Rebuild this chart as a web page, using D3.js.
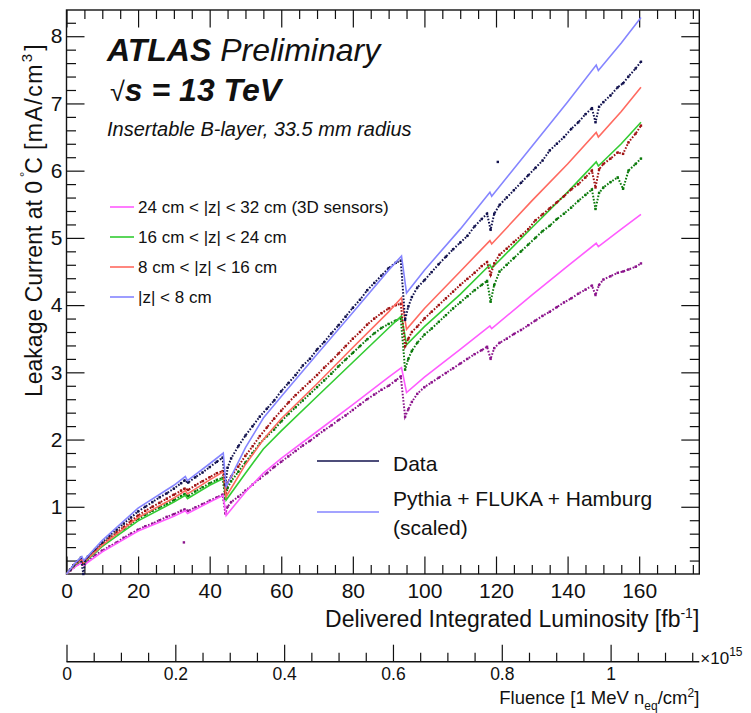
<!DOCTYPE html>
<html>
<head>
<meta charset="utf-8">
<script src="https://cdn.jsdelivr.net/npm/d3@7"></script>
<style>
  body { margin: 0; background: #fff; }
  svg { display: block; }
  text { font-family: "Liberation Sans", Arial, Helvetica, sans-serif; fill: #111; }
</style>
</head>
<body>
<svg id="chart" width="751" height="713"></svg>
<script>
// luminosity points of the measured currents [fb-1]
const lumiData = [1,2,3,4,4.7,5.2,6,8,10,12,14,16,18,20,22,24,26,28,30,32,33,34,36,38,40,42,43.6,
  44.4,45,46,48,50,52,54,56,58,60,62,64,66,68,70,72,74,76,78,80,82,84,86,88,90,92,93.4,
  94.6,95.5,96.5,98,100,102,104,106,108,110,112,114,116,117.5,118.5,119.5,121,123,125,127,129,131,133,135,137,139,141,143,145,146.8,147.8,148.8,150,152,154,155.5,157,159,160.5];

// measured leakage current [mA/cm3]
const dataZ8 = [0.06,0.13,0.19,0.24,0.0,0.2,0.26,0.37,0.47,0.57,0.66,0.75,0.84,0.93,1.0,1.07,1.14,1.2,1.27,1.35,1.39,1.36,1.44,1.51,1.59,1.67,1.73,
  1.32,1.58,1.72,1.9,2.06,2.2,2.34,2.46,2.58,2.72,2.84,2.96,3.1,3.2,3.34,3.45,3.58,3.7,3.83,3.96,4.08,4.22,4.33,4.44,4.55,4.63,4.66,
  3.78,3.98,4.12,4.26,4.37,4.49,4.61,4.72,4.83,4.93,5.03,5.17,5.28,5.36,5.12,5.36,5.49,5.6,5.71,5.82,5.93,6.04,6.15,6.3,6.4,6.5,6.62,6.72,6.84,6.93,6.72,6.95,7.02,7.12,7.24,7.3,7.4,7.52,7.62];
const dataZ16 = [0.06,0.13,0.18,0.22,0.17,0.2,0.25,0.35,0.45,0.53,0.62,0.7,0.79,0.87,0.94,1.0,1.06,1.12,1.18,1.24,1.27,1.25,1.32,1.38,1.44,1.5,1.53,
  1.2,1.36,1.45,1.6,1.76,1.9,2.05,2.18,2.31,2.43,2.55,2.66,2.76,2.86,2.96,3.07,3.17,3.28,3.39,3.5,3.6,3.71,3.8,3.88,3.95,4.0,4.02,
  3.39,3.5,3.6,3.68,3.8,3.9,4.0,4.1,4.2,4.3,4.39,4.48,4.58,4.64,4.45,4.62,4.75,4.84,4.94,5.03,5.13,5.26,5.35,5.44,5.53,5.62,5.72,5.8,5.9,6.0,5.75,6.02,6.1,6.18,6.27,6.25,6.42,6.55,6.67];
const dataZ24 = [0.06,0.12,0.17,0.21,0.16,0.19,0.24,0.34,0.43,0.52,0.6,0.67,0.75,0.82,0.88,0.94,0.99,1.04,1.1,1.16,1.19,1.16,1.23,1.29,1.35,1.4,1.43,
  1.12,1.28,1.38,1.52,1.66,1.8,1.94,2.05,2.15,2.27,2.38,2.48,2.58,2.68,2.78,2.88,2.98,3.09,3.19,3.29,3.39,3.49,3.58,3.66,3.72,3.77,3.8,
  3.04,3.2,3.32,3.44,3.56,3.65,3.75,3.85,3.95,4.04,4.13,4.22,4.3,4.36,4.05,4.3,4.5,4.6,4.7,4.8,4.9,5.0,5.1,5.18,5.28,5.36,5.45,5.55,5.64,5.72,5.43,5.67,5.75,5.83,5.9,5.73,6.0,6.1,6.18];
const dataZ32 = [0.05,0.1,0.14,0.17,0.14,0.16,0.2,0.28,0.35,0.41,0.47,0.54,0.6,0.66,0.71,0.75,0.8,0.85,0.89,0.94,0.96,0.94,0.99,1.04,1.09,1.14,1.18,
  0.9,1.0,1.07,1.15,1.24,1.33,1.42,1.5,1.59,1.67,1.75,1.83,1.91,1.98,2.06,2.14,2.21,2.29,2.36,2.44,2.52,2.6,2.67,2.74,2.8,2.88,2.94,
  2.34,2.45,2.56,2.68,2.78,2.85,2.92,2.99,3.06,3.13,3.2,3.27,3.33,3.38,3.2,3.36,3.44,3.5,3.57,3.63,3.7,3.77,3.84,3.9,3.97,4.04,4.1,4.17,4.23,4.29,4.15,4.3,4.38,4.43,4.48,4.5,4.53,4.57,4.62];

// a few isolated measurements
const outlierLumi = [32.8, 120.5];
const outlierCurrent = [0.47, 6.13];
const outlierSeries = [3, 0];

// Pythia + FLUKA + Hamburg prediction (scaled)
const simLumi = [0,2.5,4.3,4.8,10,20,30,33.2,33.8,40,43.8,44.6,50,55,60,70,80,90,93.6,95,100,110,118.3,118.8,130,140,148,148.6,155,160.5];
const simZ8 = [0,0.17,0.26,0.2,0.5,0.98,1.32,1.45,1.39,1.64,1.80,1.30,1.88,2.32,2.64,3.27,3.89,4.52,4.73,4.18,4.52,5.13,5.68,5.62,6.36,7.02,7.57,7.49,7.9,8.28];
const simZ16 = [0,0.15,0.22,0.17,0.43,0.84,1.13,1.24,1.19,1.40,1.52,1.15,1.63,2.0,2.31,2.83,3.37,3.9,4.11,3.64,3.95,4.5,4.96,4.91,5.55,6.1,6.57,6.5,6.88,7.24];
const simZ24 = [0,0.14,0.21,0.16,0.41,0.79,1.07,1.17,1.12,1.32,1.42,1.1,1.5,1.86,2.13,2.64,3.15,3.66,3.84,3.41,3.68,4.16,4.6,4.55,5.15,5.68,6.13,6.07,6.4,6.72];
const simZ32 = [0,0.11,0.17,0.13,0.33,0.64,0.86,0.94,0.9,1.07,1.17,0.87,1.22,1.5,1.72,2.12,2.52,2.93,3.07,2.7,2.93,3.34,3.69,3.65,4.15,4.58,4.92,4.87,5.13,5.35];

const regionLabels = ["|z| < 8 cm", "8 cm < |z| < 16 cm", "16 cm < |z| < 24 cm", "24 cm < |z| < 32 cm (3D sensors)"];
const dataColors = ["#12124e", "#a01212", "#0b7a0b", "#8c148c"];
const simColors = ["#8585ff", "#ff6a60", "#33cc33", "#ff5cff"];

const xTicks = [0,20,40,60,80,100,120,140,160];
const yTicks = [1,2,3,4,5,6,7,8];
const fluenceTicks = [0,0.2,0.4,0.6,0.8,1];

const box = { left: 66.5, right: 699.3, top: 10, bottom: 574 };

const svg = d3.select("#chart");

const x = d3.scaleLinear().domain([0, 176.8]).range([box.left, box.right]);
const y = d3.scaleLinear().domain([0, 8.39]).range([box.bottom, box.top]);
const xf = d3.scaleLinear().domain([0, 1.163]).range([box.left, box.right]);

// axes (ticks point inside the frame)
function minors(step, max) {
  return d3.range(0, max + 1e-9, step);
}
const xMinor = minors(5, 176.8).filter(v => v % 20 !== 0);
const yMinor = minors(0.2, 8.39).filter(v => Math.abs(v - Math.round(v)) > 1e-6);

svg.append("g")
  .attr("transform", `translate(0,${box.bottom})`)
  .call(d3.axisBottom(x).tickValues(xTicks).tickSize(-17.5).tickPadding(9).tickFormat(d3.format("d")))
  .call(g => g.selectAll("text").style("font-size", "21px"));
svg.append("g")
  .attr("transform", `translate(0,${box.bottom})`)
  .call(d3.axisBottom(x).tickValues(xMinor).tickSize(-9).tickFormat(""));
svg.append("g")
  .attr("transform", `translate(0,${box.top})`)
  .call(d3.axisTop(x).tickValues(xTicks).tickSize(-17.5).tickFormat(""));
svg.append("g")
  .attr("transform", `translate(0,${box.top})`)
  .call(d3.axisTop(x).tickValues(xMinor).tickSize(-9).tickFormat(""));

svg.append("g")
  .attr("transform", `translate(${box.left},0)`)
  .call(d3.axisLeft(y).tickValues(yTicks).tickSize(-18).tickPadding(4).tickFormat(d3.format("d")))
  .call(g => g.selectAll("text").style("font-size", "21px"));
svg.append("g")
  .attr("transform", `translate(${box.left},0)`)
  .call(d3.axisLeft(y).tickValues(yMinor).tickSize(-9.5).tickFormat(""));
svg.append("g")
  .attr("transform", `translate(${box.right},0)`)
  .call(d3.axisRight(y).tickValues(yTicks).tickSize(-18).tickFormat(""));
svg.append("g")
  .attr("transform", `translate(${box.right},0)`)
  .call(d3.axisRight(y).tickValues(yMinor).tickSize(-9.5).tickFormat(""));

// fluence axis
const fluY = 661.7;
svg.append("g")
  .attr("transform", `translate(0,${fluY})`)
  .call(d3.axisBottom(xf).tickValues(fluenceTicks).tickSize(-17).tickPadding(6).tickFormat(d3.format("~g")))
  .call(g => g.selectAll("text").style("font-size", "17.5px"));
svg.append("g")
  .attr("transform", `translate(0,${fluY})`)
  .call(d3.axisBottom(xf).tickValues(minors(0.05, 1.163).filter(v => Math.abs(v * 5 - Math.round(v * 5)) > 1e-6)).tickSize(-9).tickFormat(""));

svg.selectAll(".domain").remove();
svg.selectAll(".tick line").attr("stroke", "#111").attr("stroke-width", 1.2);

// fluence axis line
svg.append("line")
  .attr("x1", box.left).attr("x2", box.right)
  .attr("y1", fluY).attr("y2", fluY)
  .attr("stroke", "#111").attr("stroke-width", 1.4);

// frame
svg.append("rect")
  .attr("x", box.left).attr("y", box.top)
  .attr("width", box.right - box.left).attr("height", box.bottom - box.top)
  .attr("fill", "none").attr("stroke", "#111").attr("stroke-width", 1.4);

// curves
const plot = svg.append("g");
const line = d3.line().x(d => x(d[0])).y(d => y(d[1]));

const simSeries = [simZ8, simZ16, simZ24, simZ32];
const dataSeries = [dataZ8, dataZ16, dataZ24, dataZ32];

// draw order: lower curves first
[3, 2, 1, 0].forEach(i => {
  const pts = lumiData.map((l, j) => [l, dataSeries[i][j]]);
  plot.append("path")
    .attr("d", line(pts))
    .attr("fill", "none")
    .attr("stroke", dataColors[i])
    .attr("stroke-width", 2)
    .attr("stroke-dasharray", "1.6,1.6");
  plot.append("g").selectAll("rect")
    .data(pts)
    .join("rect")
    .attr("x", d => x(d[0]) - 1.2)
    .attr("y", d => y(d[1]) - 1.2)
    .attr("width", 2.4).attr("height", 2.4)
    .attr("fill", dataColors[i]);

  const sim = simLumi.map((l, j) => [l, simSeries[i][j]]);
  plot.append("path")
    .attr("d", line(sim))
    .attr("fill", "none")
    .attr("stroke", simColors[i])
    .attr("stroke-width", 1.6);
});

plot.selectAll(".outlier")
  .data(outlierLumi.map((l, j) => [l, outlierCurrent[j], outlierSeries[j]]))
  .join("rect")
  .attr("class", "outlier")
  .attr("x", d => x(d[0]) - 1.2)
  .attr("y", d => y(d[1]) - 1.2)
  .attr("width", 2.4).attr("height", 2.4)
  .attr("fill", d => dataColors[d[2]]);

// axis titles
const xt = svg.append("text")
  .attr("x", box.right).attr("y", 627)
  .attr("text-anchor", "end")
  .style("font-size", "23px");
xt.append("tspan").text("Delivered Integrated Luminosity [fb");
xt.append("tspan").attr("dy", -9).style("font-size", "14px").text("-1");
xt.append("tspan").attr("dy", 9).text("]");

const yt = svg.append("text")
  .attr("transform", "translate(41.5,397) rotate(-90)")
  .style("font-size", "23px");
yt.append("tspan").text("Leakage Current at 0");
yt.append("tspan").attr("dx", 4).attr("dy", -13).style("font-size", "13px").text("°");
yt.append("tspan").attr("dx", -2).attr("dy", 13).text("C");
yt.append("tspan").attr("dx", 7).style("letter-spacing", "1.5px").text("[mA/cm");
yt.append("tspan").attr("dx", 1).attr("dy", -10).style("font-size", "15px").text("3");
yt.append("tspan").attr("dx", 3).attr("dy", 10).text("]");

const ft = svg.append("text")
  .attr("x", box.right).attr("y", 704)
  .attr("text-anchor", "end")
  .style("font-size", "18.5px");
ft.append("tspan").text("Fluence [1 MeV n");
ft.append("tspan").attr("dy", 6).style("font-size", "12px").text("eq");
ft.append("tspan").attr("dy", -6).text("/cm");
ft.append("tspan").attr("dy", -7).style("font-size", "12px").text("2");
ft.append("tspan").attr("dy", 7).text("]");

const ex = svg.append("text")
  .attr("x", box.right + 1).attr("y", 664)
  .style("font-size", "17px");
ex.append("tspan").text("×10");
ex.append("tspan").attr("dy", -8).style("font-size", "12px").text("15");

// ATLAS labels
const atlas = svg.append("text").attr("x", 107).attr("y", 61).style("font-size", "32px").style("font-style", "italic");
atlas.append("tspan").style("font-weight", "bold").text("ATLAS");
atlas.append("tspan").text(" Preliminary");

const energy = svg.append("text").attr("x", 110).attr("y", 101).style("font-size", "32px");
energy.append("tspan").style("font-size", "27px").text("√");
energy.append("tspan").style("font-weight", "bold").style("font-style", "italic").text("s = 13 TeV");

svg.append("text")
  .attr("x", 107).attr("y", 136)
  .style("font-size", "20px").style("font-style", "italic")
  .text("Insertable B-layer, 33.5 mm radius");

// region legend
const legendOrder = [3, 2, 1, 0];
const legRows = svg.append("g").selectAll("g")
  .data(legendOrder)
  .join("g")
  .attr("transform", (d, k) => `translate(110,${207 + k * 30})`);
legRows.append("line")
  .attr("x1", 0).attr("x2", 24).attr("y1", 0).attr("y2", 0)
  .attr("stroke", d => simColors[d]).attr("stroke-width", 1.6);
legRows.append("text")
  .attr("x", 28).attr("y", 6)
  .style("font-size", "17px")
  .text(d => regionLabels[d]);

// data / prediction legend
const leg2 = svg.append("g");
leg2.append("line").attr("x1", 317).attr("x2", 379).attr("y1", 461).attr("y2", 461)
  .attr("stroke", dataColors[0]).attr("stroke-width", 1.6);
leg2.append("text").attr("x", 393).attr("y", 471).style("font-size", "21px").text("Data");
leg2.append("line").attr("x1", 317).attr("x2", 379).attr("y1", 512).attr("y2", 512)
  .attr("stroke", simColors[0]).attr("stroke-width", 1.6);
leg2.append("text").attr("x", 393).attr("y", 506).style("font-size", "21px").text("Pythia + FLUKA + Hamburg");
leg2.append("text").attr("x", 393).attr("y", 535).style("font-size", "21px").text("(scaled)");
</script>
</body>
</html>
